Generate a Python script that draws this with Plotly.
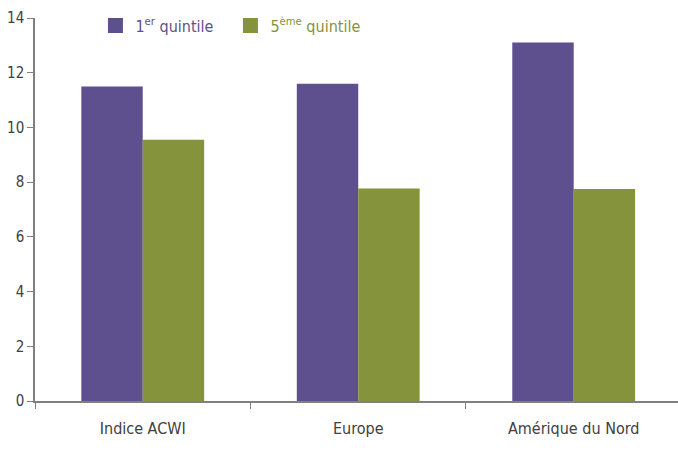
import plotly.graph_objects as go

# Categories and series values
categories = ["Indice ACWI", "Europe", "Amérique du Nord"]
q1_values = [11.5, 11.6, 13.1]
q5_values = [9.55, 7.77, 7.75]
y_ticks = [0, 2, 4, 6, 8, 10, 12, 14]

PURPLE = "#5E4F8E"
GREEN = "#85933C"
AXIS = "#808080"
TEXT = "#404040"
FONT = "DejaVu Sans Condensed, sans-serif"

fig = go.Figure()
fig.add_trace(go.Bar(x=categories, y=q1_values, marker_color=PURPLE,
                     marker_line_width=0, showlegend=False))
fig.add_trace(go.Bar(x=categories, y=q5_values, marker_color=GREEN,
                     marker_line_width=0, showlegend=False))

# Legend entries drawn as square markers
fig.add_trace(go.Scatter(x=[None], y=[None], mode="markers",
                         marker=dict(symbol="square", size=15, color=PURPLE),
                         name="<span style='color:%s'>1<sup>er</sup> quintile</span>" % PURPLE))
fig.add_trace(go.Scatter(x=[None], y=[None], mode="markers",
                         marker=dict(symbol="square", size=15, color=GREEN),
                         name="<span style='color:%s'>5<sup>ème</sup> quintile</span>" % GREEN))

fig.update_layout(
    width=678, height=456,
    margin=dict(l=35, r=0, t=18, b=55),
    paper_bgcolor="white", plot_bgcolor="white",
    barmode="group", bargap=0.43, bargroupgap=0,
    font=dict(family=FONT, size=16, color=TEXT),
    legend=dict(orientation="h", x=0.094, xanchor="left", y=0.98, yanchor="middle",
                font=dict(size=16), entrywidth=90, tracegroupgap=0,
                bgcolor="rgba(0,0,0,0)"),
)
fig.update_xaxes(
    type="category", range=[-0.5, 2.484], showline=True, linecolor=AXIS, linewidth=1.5,
    ticks="outside", tickson="boundaries", ticklen=6, tickcolor=AXIS,
    tickfont=dict(size=16, color=TEXT), showgrid=False, zeroline=False,
    ticklabelstandoff=12,
)
fig.update_yaxes(
    range=[0, 14], tickvals=y_ticks, showline=True, linecolor=AXIS, linewidth=1.5,
    ticks="outside", ticklen=6, tickcolor=AXIS, showgrid=False, zeroline=False,
    tickfont=dict(size=15, color=TEXT),
)

fig.write_html("out.html")
